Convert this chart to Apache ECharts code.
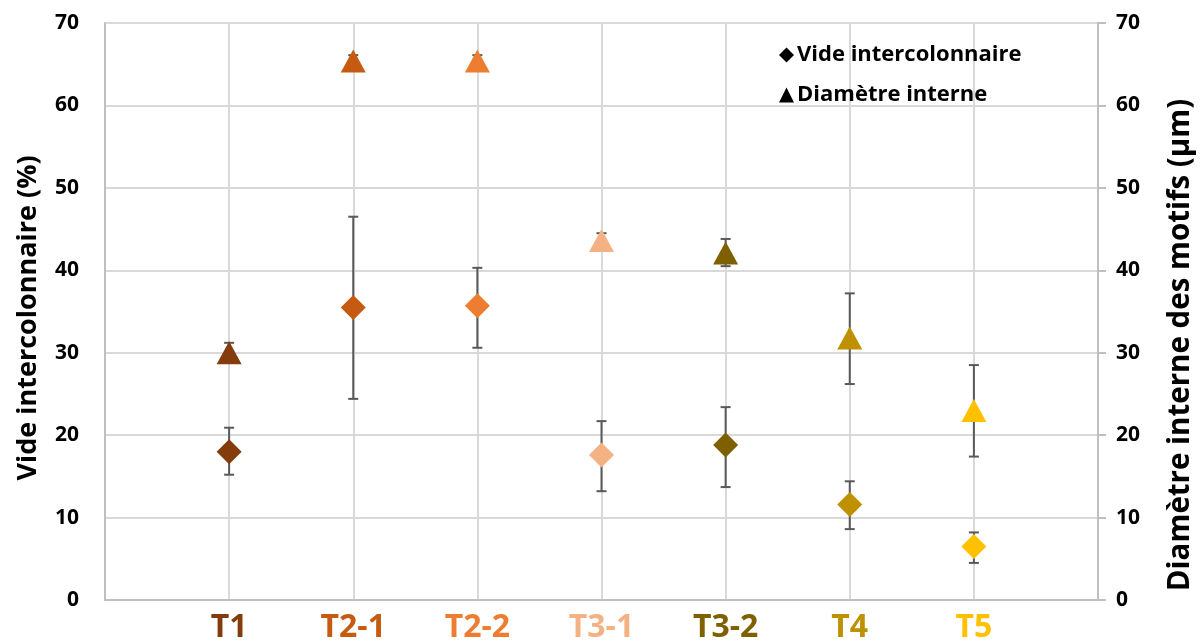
<!DOCTYPE html>
<html><head><meta charset="utf-8">
<script src="https://cdn.jsdelivr.net/npm/echarts@6/dist/echarts.min.js"></script>
<style>html,body{margin:0;padding:0;background:#fff}#c{width:1203px;height:644px}</style>
</head><body><div id="c"></div>
<script>
const categories = ['T1','T2-1','T2-2','T3-1','T3-2','T4','T5'];
const catColors = ['#843C0C','#C55A11','#ED7D31','#F4B183','#7F6000','#BF9000','#FFC000'];
const yTicks = [0,10,20,30,40,50,60,70];
// Vide intercolonnaire (%) - left axis
const videVals = [18.0, 35.5, 35.7, 17.6, 18.8, 11.6, 6.5];
const videLow  = [15.2, 24.4, 30.6, 13.2, 13.7, 8.6, 4.5];
const videHigh = [20.9, 46.5, 40.3, 21.7, 23.4, 14.4, 8.2];
// Diamètre interne (µm) - right axis
const diamVals = [30.0, 65.4, 65.4, 43.6, 42.1, 31.8, 23.0];
const diamLow  = [29.0, 64.7, 64.7, 42.7, 40.5, 26.2, 17.4];
const diamHigh = [31.2, 66.1, 66.1, 44.5, 43.8, 37.2, 28.5];
const leftTitle = 'Vide intercolonnaire (%)';
const rightTitle = 'Diamètre interne des motifs (µm)';

const FONT = '"Open Sans", sans-serif';
const xCats = [''].concat(categories).concat(['']);

function errData(low, high){ return categories.map((c,i)=>[i+1, low[i], high[i]]); }
function ptData(vals){ return categories.map((c,i)=>({value:[i+1, vals[i]], itemStyle:{color:catColors[i], opacity:1}})); }
function renderErr(params, api){
  const x = api.value(0);
  const lo = api.coord([x, api.value(1)]);
  const hi = api.coord([x, api.value(2)]);
  const w = 5;
  const st = {stroke:'#595959', lineWidth:2};
  return {type:'group', children:[
    {type:'line', shape:{x1:lo[0],y1:lo[1],x2:hi[0],y2:hi[1]}, style:st},
    {type:'line', shape:{x1:lo[0]-w,y1:lo[1],x2:lo[0]+w,y2:lo[1]}, style:st},
    {type:'line', shape:{x1:hi[0]-w,y1:hi[1],x2:hi[0]+w,y2:hi[1]}, style:st}
  ]};
}

const chart = echarts.init(document.getElementById('c'));
const yCommon = {
  type:'value', min:yTicks[0], max:yTicks[yTicks.length-1], interval:10,
  axisLine:{show:true, lineStyle:{color:'#bfbfbf', width:2}},
  axisLabel:{fontFamily:FONT, fontWeight:'bold', fontSize:21, color:'#000'}
};
chart.setOption({
  animation:false,
  textStyle:{fontFamily:FONT},
  grid:{left:105, right:105, top:23, bottom:44},
  legend:{
    orient:'vertical', left:774, top:39, itemGap:18, itemWidth:15, itemHeight:15,
    textStyle:{fontFamily:FONT, fontWeight:'bold', fontSize:22, color:'#000', padding:[0,0,0,-2]},
    data:[
      {name:'Vide intercolonnaire', icon:'diamond', itemStyle:{color:'#000', opacity:1}},
      {name:'Diamètre interne', icon:'triangle', itemStyle:{color:'#000', opacity:1}}
    ]
  },
  graphic:[
    {type:'text', x:28, y:318, rotation:Math.PI/2, silent:true,
      style:{text:leftTitle, fontFamily:FONT, fontWeight:'bold', fontSize:27, fill:'#000', align:'center', verticalAlign:'middle'}},
    {type:'text', x:1181, y:345, rotation:Math.PI/2, silent:true,
      style:{text:rightTitle, fontFamily:FONT, fontWeight:'bold', fontSize:29.5, fill:'#000', align:'center', verticalAlign:'middle'}}
  ],
  xAxis:{
    type:'category', data:xCats, boundaryGap:false,
    axisLine:{lineStyle:{color:'#bfbfbf', width:2}},
    axisTick:{show:false},
    splitLine:{show:true, lineStyle:{color:'#d9d9d9', width:2}},
    axisLabel:{interval:0, fontFamily:FONT, fontWeight:'bold', fontSize:32, margin:12,
      color:function(v, i){ const k = categories.indexOf(v); return k>=0 ? catColors[k] : '#000'; }}
  },
  yAxis:[
    Object.assign({}, yCommon, {position:'left', axisTick:{show:false},
      axisLabel:Object.assign({}, yCommon.axisLabel, {margin:26}),
      splitLine:{show:true, lineStyle:{color:'#d9d9d9', width:2}}}),
    Object.assign({}, yCommon, {position:'right',
      axisTick:{show:true, length:8, lineStyle:{color:'#bfbfbf', width:2}},
      axisLabel:Object.assign({}, yCommon.axisLabel, {margin:18}),
      splitLine:{show:false}})
  ],
  series:[
    {type:'custom', name:'errV', yAxisIndex:0, renderItem:renderErr, data:errData(videLow, videHigh), z:2, silent:true},
    {type:'custom', name:'errD', yAxisIndex:1, renderItem:renderErr, data:errData(diamLow, diamHigh), z:2, silent:true},
    {type:'scatter', name:'Vide intercolonnaire', yAxisIndex:0, symbol:'diamond', symbolSize:[25,25], data:ptData(videVals), z:3},
    {type:'scatter', name:'Diamètre interne', yAxisIndex:1, symbol:'triangle', symbolSize:[25,23], data:ptData(diamVals), z:3}
  ]
});
</script></body></html>
